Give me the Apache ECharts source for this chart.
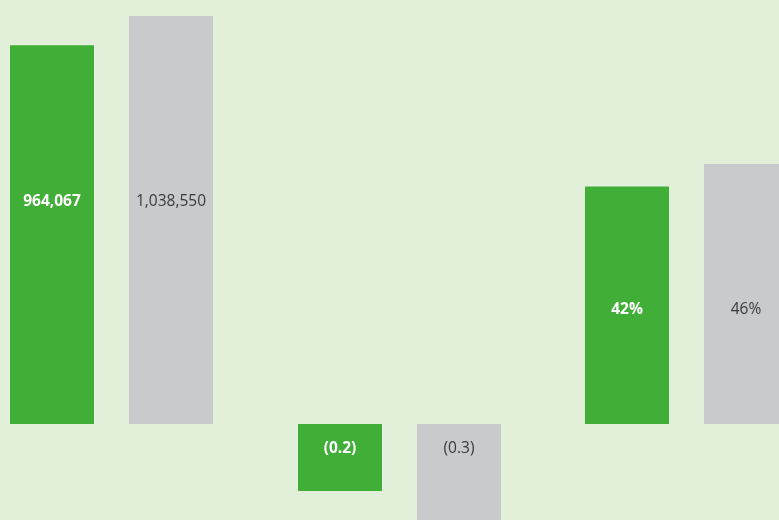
<!DOCTYPE html>
<html>
<head>
<meta charset="UTF-8">
<title>Chart</title>
<script src="https://cdn.jsdelivr.net/npm/echarts@6/dist/echarts.min.js"></script>
<style>
  html, body { margin: 0; padding: 0; background: #e2efd9; }
  #main { width: 779px; height: 520px; }
</style>
</head>
<body>
<div id="main"></div>
<script>
// each group has its own scale: current (green) vs prior (gray)
const groups = ['revenue', 'change', 'share'];
const currentValues = [964067, -0.2, 42];
const priorValues = [1038550, -0.3, 46];
const labelTexts = [['964,067', '1,038,550'], ['(0.2)', '(0.3)'], ['42%', '46%']];

const GREEN = '#41ae37';
const GRAY = '#c9cacc';

// grid placement per group (zero line at y=424), some run off the canvas
const grids = [
  { left: 10, top: 16, width: 203, height: 408 },
  { left: 298, top: 424, width: 203, height: 100.5 },
  { left: 585, top: 164, width: 203, height: 260 }
];
const yRanges = [[0, 1038550], [-0.3, 0], [0, 46]];
const labelPos = [
  { position: 'insideBottom', distance: 214 },
  { position: 'insideTop', distance: 17 },
  { position: 'insideBottom', distance: 106 }
];

let myChart = echarts.init(document.getElementById('main'));

let series = [];
groups.forEach(function (g, i) {
  [currentValues, priorValues].forEach(function (arr, j) {
    series.push({
      type: 'bar',
      xAxisIndex: i,
      yAxisIndex: i,
      barWidth: 84,
      barGap: '41.67%',
      barCategoryGap: 0,
      data: [arr[i]],
      itemStyle: { color: j === 0 ? GREEN : GRAY },
      label: {
        show: true,
        position: labelPos[i].position,
        distance: labelPos[i].distance,
        formatter: function () { return labelTexts[i][j]; },
        color: j === 0 ? '#ffffff' : '#3a3a3a',
        fontWeight: j === 0 ? 'bold' : 'normal',
        fontSize: 15.5,
        fontFamily: 'Open Sans'
      },
      silent: true
    });
  });
});

let option = {
  animation: false,
  backgroundColor: '#e2efd9',
  grid: grids.map(function (g) {
    return Object.assign({ outerBoundsMode: 'none', containLabel: false }, g);
  }),
  xAxis: groups.map(function (g, i) {
    return { type: 'category', gridIndex: i, data: [g], show: false };
  }),
  yAxis: groups.map(function (g, i) {
    return { type: 'value', gridIndex: i, min: yRanges[i][0], max: yRanges[i][1], show: false };
  }),
  series: series
};

myChart.setOption(option);
</script>
</body>
</html>
